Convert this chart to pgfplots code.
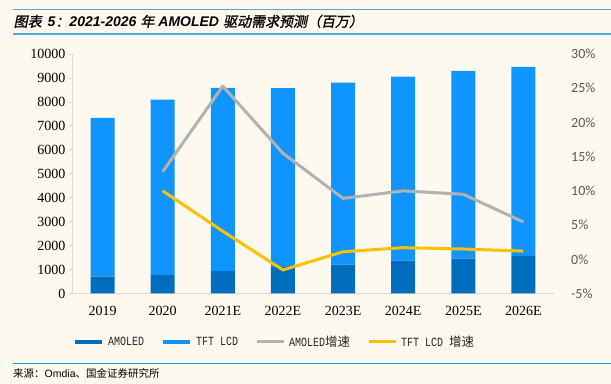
\documentclass[border=0pt]{standalone}
\usepackage{pgfplots}
\pgfplotsset{compat=1.18}
\usepackage{fontspec}
\setmainfont{Liberation Serif}
\newfontfamily\cjk{Noto Sans CJK SC}
\newfontfamily\tcjk[FakeSlant=0.2,FakeBold=1.2]{Noto Sans CJK SC}
\newfontfamily\tlat{Liberation Sans}
\newfontfamily\carlito{Carlito}
\newfontfamily\legfont[FakeStretch=0.8]{Liberation Mono}
\definecolor{bgc}{RGB}{253,249,239}
\definecolor{amoledc}{RGB}{0,110,189}
\definecolor{tftc}{RGB}{16,148,253}
\definecolor{graylc}{RGB}{178,178,178}
\definecolor{yellowc}{RGB}{255,192,0}
\definecolor{axisc}{RGB}{217,217,217}
\definecolor{tline}{RGB}{75,170,225}
\definecolor{sline}{RGB}{0,160,233}
\definecolor{ticgray}{RGB}{89,89,89}
\begin{document}
\begin{tikzpicture}
\fill[bgc] (0,0) rectangle (611bp,384bp);
\useasboundingbox (0,0) rectangle (611bp,384bp);
\draw[tline, line width=1.5bp] (13bp,374.7bp) -- (611bp,374.7bp);
\draw[tline, line width=2bp] (13bp,349.7bp) -- (611bp,349.7bp);
\draw[sline, line width=1.5bp] (13bp,20.7bp) -- (611bp,20.7bp);
\node[anchor=base west,inner sep=0] at (13.5bp,357.3bp) {\fontsize{14bp}{16bp}\selectfont\tcjk 图表\hspace{6bp}{\tlat\bfseries\itshape 5}：{\tlat\bfseries\itshape 2021-2026}\hspace{4bp}年\hspace{4bp}{\tlat\bfseries\itshape AMOLED}\hspace{4bp}驱动需求预测（百万）};
\node[anchor=base west,inner sep=0] at (13bp,6.7bp) {\fontsize{10.5bp}{12bp}\selectfont\cjk 来源：{\tlat Omdia}、国金证券研究所};

\begin{axis}[
  at={(72.5bp,90.5bp)}, anchor=south west, scale only axis,
  width=481bp, height=239.5bp,
  xmin=-0.5, xmax=7.5, ymin=0, ymax=10000,
  ybar stacked, bar width=0.4,
  xtick={0,...,7},
  xticklabels={2019,2020,2021E,2022E,2023E,2024E,2025E,2026E},
  ytick={0,1000,...,10000},
  axis x line*=bottom, axis y line*=left,
  axis line style={draw=axisc, line width=0.75bp, -},
  x tick style={draw=none},
  y tick style={draw=axisc, line width=0.75bp},
  tick align=outside, major tick length=4bp,
  scaled y ticks=false,
  /pgf/number format/1000 sep={},
  /pgf/number format/assume math mode=true,
  tick label style={font=\fontsize{14bp}{16bp}\selectfont, text=black},
  xticklabel style={anchor=north, inner sep=0pt, yshift=-8.5bp},
  yticklabel style={anchor=east, inner sep=0pt, xshift=-3bp},
]
\addplot[fill=amoledc, draw=none] coordinates {(0,700)(1,780)(2,940)(3,1110)(4,1210)(5,1370)(6,1460)(7,1570)};
\addplot[fill=tftc, draw=none] coordinates {(0,6630)(1,7310)(2,7650)(3,7470)(4,7590)(5,7680)(6,7840)(7,7890)};
\end{axis}

\begin{axis}[
  at={(72.5bp,90.5bp)}, anchor=south west, scale only axis,
  width=481bp, height=239.5bp,
  xmin=-0.5, xmax=7.5, ymin=-5, ymax=30,
  axis x line=none, axis y line*=right,
  axis line style={draw=none},
  ytick={-5,0,...,30},
  major tick length=0pt, y tick style={draw=none},
  /pgf/number format/assume math mode=true,
  yticklabel={\pgfmathprintnumber{\tick}\%},
  yticklabel style={font=\carlito\fontsize{14bp}{16bp}\selectfont, text=ticgray, anchor=west, inner sep=0pt, xshift=17.5bp},
  legend columns=4,
  legend style={draw=none, fill=none, at={(0.001,-0.2013)}, anchor=west, inner sep=0pt,
    font=\legfont\fontsize{12.5bp}{14bp}\selectfont, text=black!85,
    nodes={inner sep=0pt},
    /tikz/every odd column/.append style={column sep=4bp},
    /tikz/every even column/.append style={column sep=17bp}},
  legend cell align=left,
  legend image code/.code={\draw[#1] (0bp,0bp) -- (27bp,0bp);},
]
\addlegendimage{amoledc, line width=4bp}
\addlegendentry{AMOLED}
\addlegendimage{tftc, line width=4bp}
\addlegendentry{TFT LCD}
\addplot[graylc, line width=3bp, mark=none, line join=round] coordinates {(1,12.8)(2,25.3)(3,15.5)(4,8.9)(5,10.0)(6,9.5)(7,5.45)};
\addlegendentry{AMOLED{\cjk 增速}}
\addplot[yellowc, line width=3bp, mark=none, line join=round] coordinates {(1,10.0)(2,4.1)(3,-1.56)(4,1.1)(5,1.7)(6,1.5)(7,1.2)};
\addlegendentry{TFT LCD {\cjk 增速}}
\end{axis}
\end{tikzpicture}
\end{document}
